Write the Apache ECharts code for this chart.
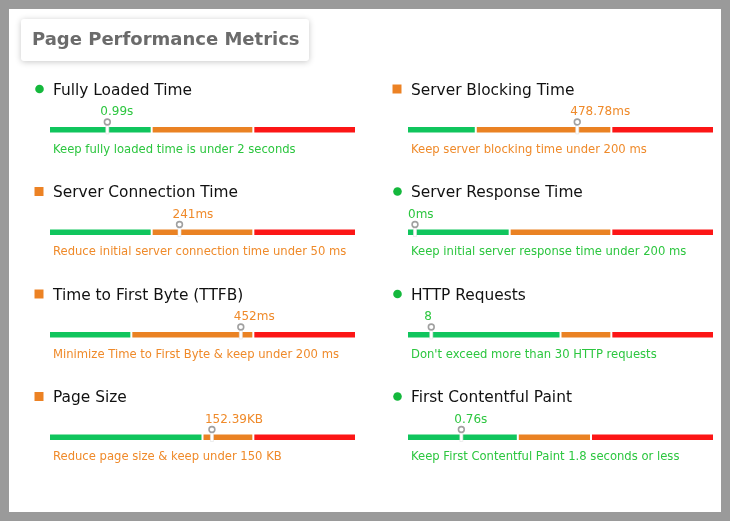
<!DOCTYPE html>
<html>
<head>
<meta charset="utf-8">
<script src="https://cdn.jsdelivr.net/npm/echarts@6/dist/echarts.min.js"></script>
<style>
html,body{margin:0;padding:0;background:#9a9a9a;}
#chart{width:730px;height:521px;}
</style>
</head>
<body>
<div id="chart"></div>
<script>
// ---- data ----
const chartTitle = 'Page Performance Metrics';
const metricNames = ['Fully Loaded Time', 'Server Blocking Time', 'Server Connection Time', 'Server Response Time',
  'Time to First Byte (TTFB)', 'HTTP Requests', 'Page Size', 'First Contentful Paint'];
const metricValues = [0.99, 478.78, 241, 0, 452, 8, 152.39, 0.76];
const valueLabels = ['0.99s', '478.78ms', '241ms', '0ms', '452ms', '8', '152.39KB', '0.76s'];
const goodLimits = [2, 200, 200, 200, 200, 75, 150, 1.8];
const warnLimits = [4, 600, 400, 400, 500, 100, 200, 3.0];
const scaleMax = [6, 900, 600, 600, 750, 150, 300, 5.0];
const tips = ['Keep fully loaded time is under 2 seconds', 'Keep server blocking time under 200 ms',
  'Reduce initial server connection time under 50 ms', 'Keep initial server response time under 200 ms',
  'Minimize Time to First Byte & keep under 200 ms', "Don't exceed more than 30 HTTP requests",
  'Reduce page size & keep under 150 KB', 'Keep First Contentful Paint 1.8 seconds or less'];

// ---- styling ----
const FONT = '"DejaVu Sans", Verdana, sans-serif';
const segColors = ['#10c55d', '#ea8223', '#fc1616'];
const textColors = ['#2cc63f', '#ef8a2a', '#f02020'];
const iconColors = ['#14b83c', '#ec8224', '#f02020'];
const colLeft = [50, 408];
const barWidth = 305;
const barH = 5.5;
const rowTop = [127, 229.5, 332, 434.5];

const chart = echarts.init(document.getElementById('chart'), null, {renderer: 'canvas'});

const grids = [], xAxes = [], yAxes = [], series = [], graphics = [];

graphics.push({type: 'rect', left: 9, top: 9, shape: {width: 712, height: 503}, style: {fill: '#ffffff'}, z: 0});
graphics.push({type: 'rect', left: 21, top: 19, shape: {width: 288, height: 42, r: 3},
  style: {fill: '#fff', shadowBlur: 6, shadowColor: 'rgba(0,0,0,0.22)', shadowOffsetX: 0, shadowOffsetY: 1}, z: 1});
graphics.push({type: 'text', left: 32, top: 31, style: {text: chartTitle, font: 'bold 18px ' + FONT, fill: '#6b6b6b'}, z: 2});

metricNames.forEach((name, i) => {
  const col = i % 2, row = Math.floor(i / 2);
  const left = colLeft[col], top = rowTop[row];
  const v = metricValues[i];
  const status = v <= goodLimits[i] ? 0 : (v <= warnLimits[i] ? 1 : 2);

  grids.push({left: left, top: top, width: barWidth, height: barH, containLabel: false});
  xAxes.push({gridIndex: i, type: 'value', min: 0, max: scaleMax[i], show: false});
  yAxes.push({gridIndex: i, type: 'value', min: 0, max: 1, show: false});

  // icon
  if (status === 0) {
    graphics.push({type: 'circle', shape: {cx: left - 10.5, cy: top - 38, r: 4.3}, style: {fill: iconColors[0]}, z: 3});
  } else {
    graphics.push({type: 'rect', shape: {x: left - 15.5, y: top - 42.5, width: 9, height: 9}, style: {fill: iconColors[status]}, z: 3});
  }
  // metric title
  graphics.push({type: 'text', x: left + 3, y: top - 36.5,
    style: {text: name, font: '15.4px ' + FONT, fill: '#111', textVerticalAlign: 'middle', textAlign: 'left'}, z: 3});
  // tip
  graphics.push({type: 'text', x: left + 3, y: top + 22.5,
    style: {text: tips[i], font: '11.6px ' + FONT, fill: textColors[status], textVerticalAlign: 'middle', textAlign: 'left'}, z: 3});

  // segments
  series.push({
    type: 'custom', xAxisIndex: i, yAxisIndex: i, clip: false, silent: true, z: 3,
    data: [[0, goodLimits[i], 0], [goodLimits[i], warnLimits[i], 1], [warnLimits[i], scaleMax[i], 2]],
    encode: {x: [0, 1]},
    renderItem: function (params, api) {
      const s = api.value(0), e = api.value(1), c = api.value(2);
      const p0 = api.coord([s, 1]);
      const p1 = api.coord([e, 0]);
      const x0 = p0[0] + (c > 0 ? 1 : 0);
      const x1 = p1[0] - (c < 2 ? 1 : 0);
      return {type: 'rect', shape: {x: x0, y: p0[1], width: x1 - x0, height: p1[1] - p0[1]}, style: {fill: segColors[c]}};
    }
  });

  // pin marker + value label
  series.push({
    type: 'custom', xAxisIndex: i, yAxisIndex: i, clip: false, silent: true, z: 5,
    data: [[v]],
    encode: {x: 0},
    renderItem: function (params, api) {
      const val = api.value(0);
      const pt = api.coord([val, 1]);
      const pb = api.coord([val, 0]);
      const px = pt[0] + 7;
      return {
        type: 'group',
        children: [
          {type: 'rect', shape: {x: px - 1.5, y: pt[1] - 3, width: 3, height: pb[1] - pt[1] + 4.5},
            style: {fill: '#ffffff', stroke: '#e2e2e2', lineWidth: 0.6}},
          {type: 'circle', shape: {cx: px, cy: pt[1] - 5, r: 2.9},
            style: {fill: '#ffffff', stroke: '#a0a0a0', lineWidth: 1.6}},
          {type: 'text', x: pt[0], y: pt[1] - 15,
            style: {text: valueLabels[i], font: '12px ' + FONT, fill: textColors[status], textAlign: 'left', textVerticalAlign: 'middle'}}
        ]
      };
    }
  });
});

chart.setOption({
  animation: false,
  backgroundColor: '#9a9a9a',
  grid: grids,
  xAxis: xAxes,
  yAxis: yAxes,
  series: series,
  graphic: graphics
});
</script>
</body>
</html>
